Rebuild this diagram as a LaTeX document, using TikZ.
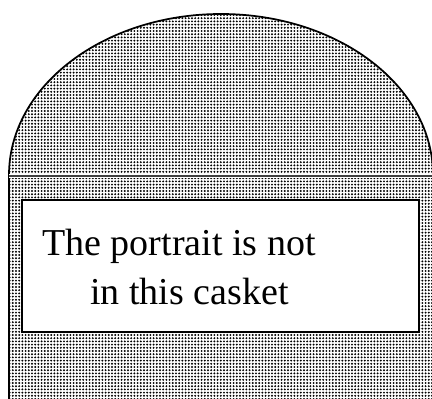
\documentclass[tikz,border=0pt]{standalone}
\usepackage{fontspec}
\setmainfont{Liberation Serif}
\usetikzlibrary{patterns.meta, positioning}
\tikzset{
  casket/.style={pattern={Dots[distance=2.4pt, radius=0.8pt]}, pattern color=black},
  rim/.style={draw=black, line width=1.3pt},
  panelbox/.style={rectangle, draw=black, fill=white, line width=1.6pt,
                   minimum width=297.75pt, minimum height=99pt, inner sep=0pt},
  caption/.style={font=\fontsize{28.5}{36.75}\selectfont, align=left, inner sep=0pt},
}
\begin{document}
\begin{tikzpicture}[x=0.75pt, y=0.75pt]
  \useasboundingbox (0,0) rectangle (432,399);
  \clip (0,0) rectangle (432,399);
  % casket body with rounded lid
  \fill[casket] (9,-5) -- (9,224) arc[start angle=180, end angle=0, x radius=212, y radius=161] -- (433,-5) -- cycle;
  \draw[rim] (9,-5) -- (9,224) arc[start angle=180, end angle=0, x radius=212, y radius=161];
  \draw[white, line width=3pt] (9,223) -- (433,223);
  \draw[black!75, line width=0.9pt] (9,223) -- (433,223);
  % inscription
  \node[panelbox] (panel) at (220.5,133) {};
  \node[caption, anchor=base west] (msg) at (42,94) {The portrait is not\\\hspace*{36pt}in this casket};
\end{tikzpicture}
\end{document}
